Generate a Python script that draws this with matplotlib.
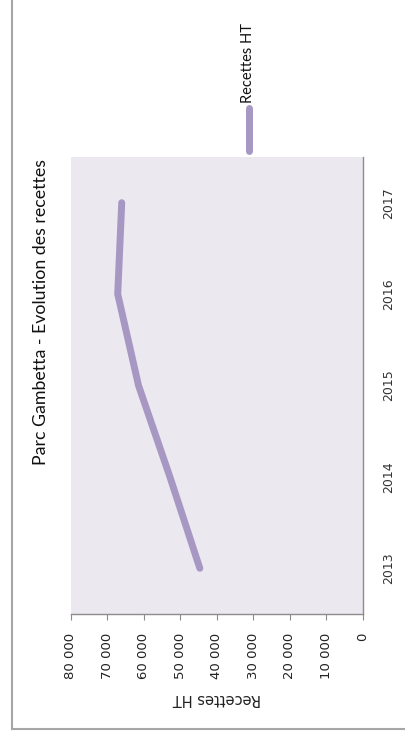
import matplotlib
matplotlib.use("Agg")
import matplotlib.pyplot as plt
from matplotlib.lines import Line2D
from matplotlib.ticker import FuncFormatter

years = ["2013", "2014", "2015", "2016", "2017"]
recettes_ht = [44700, 52900, 61500, 67200, 66100]
value_ticks = [0, 10000, 20000, 30000, 40000, 50000, 60000, 70000, 80000]

LINE_COLOR = "#A797C3"
AREA_COLOR = "#EBE8F0"
AXIS_COLOR = "#8C8C8C"
NARROW = ["Lato", "DejaVu Sans"]

W, H = 406, 731


def fx(px):
    return px / W


def fy(py):
    return 1 - py / H


fig = plt.figure(figsize=(W / 100, H / 100), dpi=100)

# outer chart frame, only left and bottom edges fall inside the image
fig.add_artist(Line2D([fx(12.5), fx(12.5)], [fy(0), fy(728.5)],
                      transform=fig.transFigure, color="#A6A6A6", lw=1.5))
fig.add_artist(Line2D([fx(12.5), fx(406)], [fy(728.5), fy(728.5)],
                      transform=fig.transFigure, color="#A6A6A6", lw=1.5))

# chart is laid out turned a quarter turn: years go up, values run right to left
ax = fig.add_axes([fx(71), fy(614), fx(363) - fx(71), fy(157) - fy(614)])
ax.set_facecolor(AREA_COLOR)
ax.plot(recettes_ht, range(len(years)), color=LINE_COLOR, lw=5,
        solid_capstyle="round", solid_joinstyle="round")

ax.set_xlim(80000, 0)
ax.set_ylim(-0.5, len(years) - 0.5)

for side in ("top", "left"):
    ax.spines[side].set_visible(False)
for side in ("bottom", "right"):
    ax.spines[side].set_color(AXIS_COLOR)
    ax.spines[side].set_linewidth(1)

ax.set_xticks(value_ticks)
ax.xaxis.set_major_formatter(FuncFormatter(lambda v, _p: f"{int(v):,}".replace(",", " ")))
ax.tick_params(axis="x", direction="out", length=4.5, color=AXIS_COLOR,
               labelsize=9.5, labelrotation=90, pad=9, labelcolor="#222222")
for lbl in ax.get_xticklabels():
    lbl.set_va("top")

ax.yaxis.tick_right()
ax.set_yticks(range(len(years)))
ax.set_yticklabels(years, rotation=90, va="center", ha="left")
ax.tick_params(axis="y", length=0, labelsize=9, pad=14, labelcolor="#333333")

ax.set_xlabel("Recettes HT", rotation=180, fontsize=10.5, labelpad=9, color="#222222")

fig.text(fx(41), fy(312), "Parc Gambetta - Evolution des recettes", rotation=90,
         ha="center", va="center", fontsize=12.8, family=NARROW, color="#111111")

# legend entry drawn by hand above the plot area
fig.add_artist(Line2D([fx(249), fx(249)], [fy(151), fy(108)],
                      transform=fig.transFigure, color=LINE_COLOR, lw=5,
                      solid_capstyle="round"))
fig.text(fx(248), fy(103), "Recettes HT", rotation=90, ha="center", va="bottom",
         fontsize=10.5, family=NARROW, color="#111111")

fig.savefig("out.png", dpi=100)
